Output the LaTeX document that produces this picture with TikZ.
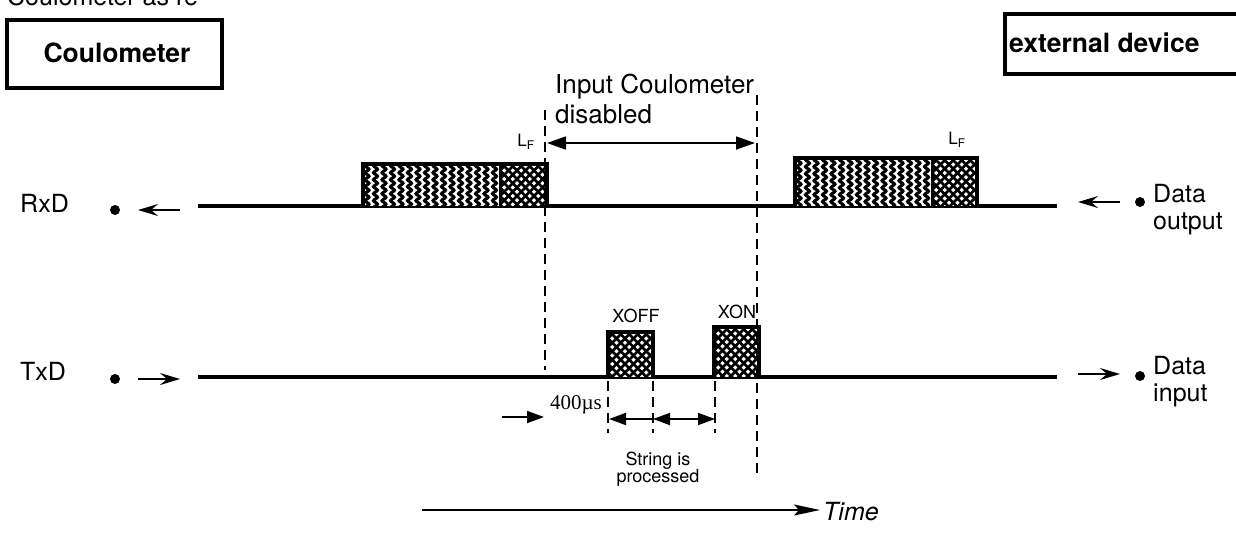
\documentclass[tikz,border=0pt]{standalone}
\usepackage{fontspec}
\setmainfont{TeX Gyre Heros}
\newfontfamily\serifnum{Liberation Serif}
\usetikzlibrary{arrows.meta,decorations.pathmorphing}
\newcommand\fsz[2]{\fontsize{#1}{#2}\selectfont}
\newcommand\wavyarea[4]{%
  \begin{scope}
    \clip (#1,#2) rectangle (#3,#4);
    \fill[white] (#1,#2) rectangle (#3,#4);
    \foreach \k in {0,...,20}{
      \draw[line width=3pt, decorate, decoration={snake,segment length=7pt,amplitude=2pt}] ({#1+4+\k*8.5},{#2-4}) -- ({#1+4+\k*8.5},{#4+4});
    }
  \end{scope}}
\newcommand\hatcharea[4]{%
  \begin{scope}
    \clip (#1,#2) rectangle (#3,#4);
    \fill[white] (#1,#2) rectangle (#3,#4);
    \foreach \k in {-9,...,15}{
      \draw[line width=2.6pt] ({#1+\k*8.5},{#2-2}) -- ++(70,70);
      \draw[line width=2.6pt] ({#1+\k*8.5},{#2-2}) -- ++(-70,70);
    }
  \end{scope}}
\begin{document}
\begin{tikzpicture}[x=1pt,y=-1pt,
  big/.style={inner sep=0pt, font=\fsz{25}{30}},
  title/.style={inner sep=0pt, font=\bfseries\fsz{26.5}{30}},
  frame/.style={draw, line width=3.5pt, inner sep=0pt},
  small/.style={inner sep=0pt, font=\fsz{18}{17}},
  sig/.style={line width=4.5pt},
  vdash/.style={line width=2.6pt, dash pattern=on 10pt off 6pt},
  dim/.style={line width=1.8pt},
  tri/.tip={Triangle[length=17pt,width=12pt]},
  dirarr/.style={line width=2pt, -{Stealth[length=20pt,width=12pt,inset=7pt]}},
  dotnode/.style={circle, fill, inner sep=0pt, minimum size=10pt},
  pkt/.style={line width=4pt},
  lf/.style={inner sep=0pt, font=\fsz{17}{20}}
]
\useasboundingbox (0,0) rectangle (1236,536);

% cropped heading
\node[big, anchor=base west] (head) at (7,5) {Coulometer as re};

% device boxes
\node[frame, minimum width=215pt, minimum height=68pt] (coulbox) at (114.5,54) {};
\node[title] (coult) at (117,53) {Coulometer};
\node[frame, anchor=north west, minimum width=250pt, minimum height=60pt] (extbox) at (1003,12) {};
\node[title, anchor=west] (extt) at (1009,43) {external device};

% signal lines
\coordinate (rxL) at (198,206); \coordinate (rxR) at (1057,206);
\coordinate (txL) at (198,377); \coordinate (txR) at (1057,377);
\draw[sig] (rxL) -- (rxR);
\draw[sig] (txL) -- (txR);

% RxD packets
\wavyarea{363}{164}{500}{206}
\hatcharea{500}{164}{547}{206}
\draw[pkt] (363,206) -- (363,164) -- (547,164) -- (547,206);
\draw[line width=3pt] (500,164) -- (500,206);
\wavyarea{795}{158}{932}{206}
\hatcharea{932}{158}{977}{206}
\draw[pkt] (795,206) -- (795,158) -- (977,158) -- (977,206);
\draw[line width=3pt] (932,158) -- (932,206);

% TxD XOFF / XON
\hatcharea{608}{332}{653}{377}
\draw[pkt] (608,377) -- (608,332) -- (653,332) -- (653,377);
\hatcharea{714}{327}{759}{377}
\draw[pkt] (714,377) -- (714,327) -- (759,327) -- (759,377);
\node[small] (xoff) at (636,316) {XOFF};
\node[small] (xon) at (737,312) {XON};

% LF labels
\node[lf] (lf1) at (526,142) {L\textsubscript{F}};
\node[lf] (lf2) at (957,140) {L\textsubscript{F}};

% dashed markers
\coordinate (d1t) at (545,110); \coordinate (d1b) at (545,370);
\coordinate (d2t) at (757,95);  \coordinate (d2b) at (757,478);
\draw[vdash] (d1t) -- (d1b);
\draw[vdash] (d2t) -- (d2b);
\coordinate (d3t) at (608,381); \coordinate (d3b) at (608,433);
\coordinate (d4t) at (653,381); \coordinate (d4b) at (653,433);
\coordinate (d5t) at (715,381); \coordinate (d5b) at (715,433);
\draw[vdash] (d3t) -- (d3b);
\draw[vdash] (d4t) -- (d4b);
\draw[vdash] (d5t) -- (d5b);

% disabled interval
\node[inner sep=0pt, font=\fsz{26}{30}, anchor=base west] (in1) at (555,93) {Input Coulometer};
\node[inner sep=0pt, font=\fsz{26}{30}, anchor=base west] (in2) at (555,123) {disabled};
\coordinate (a1) at (547,143); \coordinate (a2) at (755,143);
\draw[dim, {Triangle[length=19pt,width=13pt]}-{Triangle[length=19pt,width=13pt]}] (a1) -- (a2);

% timing below TxD
\coordinate (b0) at (502,417); \coordinate (b1) at (544,417);
\coordinate (b2) at (609,419); \coordinate (b3) at (653,419); \coordinate (b4) at (715,419);
\draw[dim, -{tri}] (b0) -- (b1);
\draw[dim, {tri}-] (b2) -- (b3);
\draw[dim, {tri}-{tri}] (b3) -- (b4);
\node[inner sep=0pt, font=\serifnum\fsz{21}{24}] (t400) at (576,405) {400µs};
\node[small, anchor=base] (str1) at (658,465) {String is};
\node[small, anchor=base] (str2) at (658,482) {processed};

% time axis
\coordinate (tm0) at (422,510); \coordinate (tm1) at (820,510);
\draw[line width=1.6pt, -{Stealth[length=26pt,width=11pt,inset=5pt]}] (tm0) -- (tm1);
\node[inner sep=0pt, font=\itshape\fsz{25}{30}, anchor=west] (time) at (823,512) {Time};

% left side labels
\node[big, anchor=base west] (rxd) at (20,212) {RxD};
\node[dotnode] (rxdot) at (115,210) {};
\coordinate (ra0) at (180,210); \coordinate (ra1) at (138,210);
\draw[dirarr] (ra0) -- (ra1);
\node[big, anchor=base west] (txd) at (20,380) {TxD};
\node[dotnode] (txdot) at (115,379) {};
\coordinate (ta0) at (138,379); \coordinate (ta1) at (180,379);
\draw[dirarr] (ta0) -- (ta1);

% right side labels
\coordinate (rb0) at (1120,202); \coordinate (rb1) at (1078,202);
\draw[dirarr] (rb0) -- (rb1);
\node[dotnode] (rbdot) at (1140,202) {};
\node[big, anchor=base west] (dout1) at (1153,202) {Data};
\node[big, anchor=base west] (dout2) at (1153,229) {output};
\coordinate (tb0) at (1078,374); \coordinate (tb1) at (1120,374);
\draw[dirarr] (tb0) -- (tb1);
\node[dotnode] (tbdot) at (1140,376) {};
\node[big, anchor=base west] (din1) at (1153,374) {Data};
\node[big, anchor=base west] (din2) at (1153,401) {input};
\end{tikzpicture}
\end{document}
